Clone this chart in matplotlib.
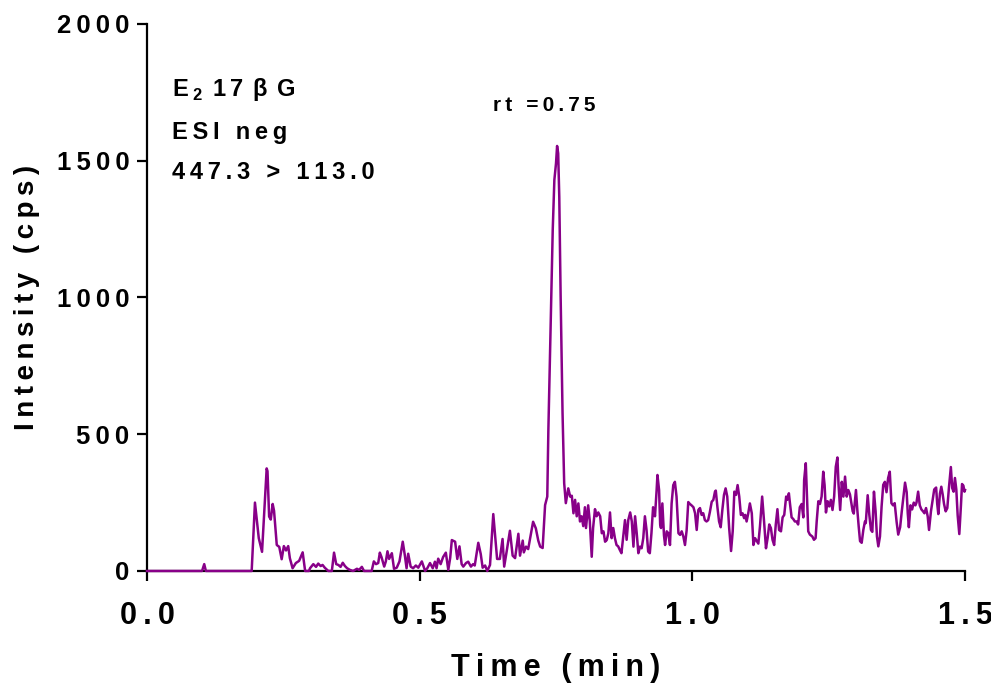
import matplotlib
matplotlib.use("Agg")
import matplotlib.pyplot as plt

# chromatogram trace (time in min, intensity in cps)
time_min = [
    0.000, 0.101, 0.105, 0.108, 0.192, 0.198, 0.204, 0.205, 0.211, 0.2195,
    0.221, 0.224, 0.227, 0.2305, 0.233, 0.238, 0.2426, 0.247, 0.251, 0.255,
    0.259, 0.262, 0.267, 0.273, 0.279, 0.2855, 0.290, 0.297, 0.299, 0.305,
    0.310, 0.314, 0.3185, 0.322, 0.326, 0.3325, 0.339, 0.343, 0.347, 0.351,
    0.355, 0.359, 0.363, 0.367, 0.372, 0.378, 0.385, 0.389, 0.394, 0.398,
    0.412, 0.416, 0.420, 0.424, 0.427, 0.430, 0.435, 0.438, 0.441, 0.444,
    0.449, 0.453, 0.458, 0.463, 0.469, 0.473, 0.476, 0.479, 0.4835, 0.488,
    0.493, 0.4975, 0.504, 0.510, 0.514, 0.519, 0.524, 0.528, 0.531, 0.534,
    0.5385, 0.543, 0.548, 0.5525, 0.556, 0.559, 0.565, 0.569, 0.573, 0.577,
    0.580, 0.585, 0.589, 0.594, 0.598, 0.601, 0.6075, 0.612, 0.6155, 0.620,
    0.624, 0.629, 0.635, 0.638, 0.642, 0.647, 0.652, 0.655, 0.6595, 0.6655,
    0.6705, 0.675, 0.681, 0.684, 0.689, 0.691, 0.695, 0.699, 0.7035, 0.708,
    0.713, 0.7175, 0.721, 0.7255, 0.730, 0.734, 0.736, 0.740, 0.744, 0.747,
    0.750, 0.752, 0.754, 0.756, 0.7585, 0.762, 0.765, 0.768, 0.7725, 0.776,
    0.779, 0.782, 0.785, 0.788, 0.791, 0.794, 0.797, 0.800, 0.803, 0.805,
    0.809, 0.812, 0.8155, 0.818, 0.8215, 0.8245, 0.8275, 0.831, 0.834, 0.837,
    0.840, 0.843, 0.846, 0.849, 0.852, 0.855, 0.858, 0.861, 0.864, 0.867,
    0.870, 0.873, 0.8765, 0.8795, 0.8825, 0.886, 0.889, 0.892, 0.895, 0.898,
    0.901, 0.904, 0.907, 0.910, 0.913, 0.916, 0.919, 0.922, 0.925, 0.928,
    0.9315, 0.9345, 0.936, 0.939, 0.941, 0.9425, 0.945, 0.948, 0.950, 0.953,
    0.956, 0.959, 0.962, 0.965, 0.968, 0.971, 0.9745, 0.9775, 0.9805, 0.9835,
    0.9865, 0.9895, 0.9925, 0.9955, 0.9985, 1.002, 1.005, 1.008, 1.011, 1.014,
    1.017, 1.020, 1.023, 1.026, 1.029, 1.032, 1.0355, 1.0385, 1.0415, 1.043,
    1.046, 1.049, 1.052, 1.055, 1.058, 1.061, 1.064, 1.0675, 1.071, 1.074,
    1.077, 1.080, 1.083, 1.086, 1.089, 1.092, 1.095, 1.097, 1.0995, 1.1025,
    1.1055, 1.109, 1.112, 1.115, 1.118, 1.121, 1.124, 1.128, 1.1315, 1.135,
    1.138, 1.141, 1.144, 1.147, 1.150, 1.153, 1.156, 1.159, 1.1625, 1.1655,
    1.1685, 1.172, 1.174, 1.177, 1.179, 1.182, 1.185, 1.188, 1.191, 1.194,
    1.197, 1.2005, 1.2035, 1.205, 1.208, 1.210, 1.2125, 1.2155, 1.220, 1.223,
    1.226, 1.228, 1.231, 1.234, 1.237, 1.240, 1.2425, 1.245, 1.248, 1.251,
    1.254, 1.257, 1.260, 1.263, 1.266, 1.268, 1.271, 1.274, 1.277, 1.280,
    1.283, 1.286, 1.289, 1.2915, 1.294, 1.296, 1.300, 1.3025, 1.305, 1.3075,
    1.3105, 1.3135, 1.3165, 1.318, 1.3215, 1.3245, 1.3275, 1.330, 1.333, 1.336,
    1.3385, 1.341, 1.344, 1.347, 1.350, 1.353, 1.356, 1.359, 1.362, 1.365,
    1.368, 1.371, 1.3745, 1.3775, 1.381, 1.384, 1.387, 1.390, 1.393, 1.395,
    1.397, 1.400, 1.403, 1.406, 1.409, 1.411, 1.414, 1.417, 1.420, 1.423,
    1.4255, 1.4285, 1.4315, 1.434, 1.4375, 1.441, 1.4435, 1.447, 1.449, 1.451,
    1.454, 1.4565, 1.459, 1.4615, 1.4645, 1.4675, 1.4705, 1.474, 1.4765, 1.479,
    1.4815, 1.484, 1.4865, 1.4895, 1.4925, 1.4945, 1.497, 1.499, 1.500,
]
intensity = [
    0, 0, 25, 0, 0, 250, 138, 120, 70, 375,
    365, 199, 188, 245, 220, 95, 88, 43, 91, 75,
    91, 47, 10, 29, 37, 68, 0, 0, 10, 25,
    15, 27, 18, 22, 12, 0, 0, 67, 25, 22,
    15, 30, 18, 10, 4, 0, 8, 4, 15, 0,
    0, 35, 25, 29, 67, 51, 16, 35, 72, 44,
    65, 8, 12, 35, 107, 55, 10, 63, 16, 10,
    20, 12, 35, 0, 10, 29, 10, 34, 10, 45,
    25, 51, 67, 4, 48, 113, 107, 44, 90, 25,
    16, 29, 34, 16, 25, 20, 103, 62, 12, 20,
    0, 22, 208, 136, 44, 44, 117, 16, 71, 147,
    56, 47, 136, 56, 111, 68, 89, 80, 130, 180,
    156, 111, 89, 84, 241, 272, 515, 881, 1247, 1430,
    1490, 1554, 1527, 1368, 1003, 577, 321, 248, 302, 272,
    275, 211, 260, 200, 247, 181, 200, 164, 233, 157,
    240, 181, 52, 157, 226, 200, 214, 200, 138, 145,
    107, 113, 138, 214, 120, 157, 120, 95, 90, 77,
    65, 120, 186, 114, 186, 214, 181, 89, 200, 138,
    65, 89, 83, 120, 200, 150, 71, 65, 138, 233,
    200, 296, 351, 296, 170, 157, 247, 130, 95, 145,
    138, 95, 247, 314, 326, 272, 138, 132, 145, 126,
    95, 148, 252, 245, 240, 233, 211, 150, 223, 230,
    205, 211, 186, 181, 186, 214, 253, 260, 290, 294,
    233, 181, 160, 223, 278, 302, 272, 157, 73, 145,
    290, 278, 314, 272, 205, 211, 193, 205, 181, 211,
    247, 211, 95, 120, 110, 100, 163, 272, 181, 83,
    120, 170, 157, 114, 95, 170, 226, 150, 145, 196,
    205, 272, 260, 284, 247, 196, 190, 181, 181, 170,
    233, 245, 196, 333, 394, 284, 145, 133, 126, 114,
    120, 181, 255, 245, 272, 363, 314, 214, 255, 236,
    260, 223, 272, 381, 415, 318, 223, 326, 272, 345,
    272, 296, 280, 250, 218, 210, 296, 223, 163, 109,
    103, 150, 181, 175, 277, 205, 150, 143, 290, 218,
    126, 90, 126, 236, 315, 326, 288, 340, 363, 248,
    240, 248, 180, 133, 160, 218, 270, 323, 288, 210,
    160, 240, 225, 250, 240, 250, 290, 240, 225, 218,
    211, 230, 200, 150, 218, 265, 298, 305, 245, 208,
    283, 308, 280, 245, 218, 230, 305, 380, 303, 290,
    340, 298, 203, 135, 240, 318, 312, 290, 296,
]

x_ticks = [0.0, 0.5, 1.0, 1.5]
x_ticklabels = ["0.0", "0.5", "1.0", "1.5"]
y_ticks = [0, 500, 1000, 1500, 2000]
y_ticklabels = ["0", "500", "1000", "1500", "2000"]

TRACE_COLOR = "#880088"
THIN = "\u2009"
BOLD_FONT = ["Liberation Sans", "DejaVu Sans"]
NARROW_FONT = ["Liberation Sans Narrow", "Liberation Sans", "DejaVu Sans"]

plt.rcParams["mathtext.fontset"] = "custom"
plt.rcParams["mathtext.rm"] = "Liberation Sans:bold"
plt.rcParams["mathtext.bf"] = "Liberation Sans:bold"


def spaced(s, sep=THIN):
    return sep.join(s)


fig = plt.figure(figsize=(9.91, 6.91), dpi=100)
ax = fig.add_axes([0.1483, 0.1737, 0.8255, 0.7916])

ax.plot(time_min, intensity, color=TRACE_COLOR, lw=1.8, clip_on=False, zorder=3)

ax.set_xlim(0, 1.5)
ax.set_ylim(0, 2000)
for side in ("top", "right"):
    ax.spines[side].set_visible(False)
for side in ("left", "bottom"):
    ax.spines[side].set_linewidth(1.6)
    ax.spines[side].set_zorder(2)

ax.set_xticks(x_ticks)
ax.set_xticklabels([spaced(s) for s in x_ticklabels], family=NARROW_FONT,
                   fontweight="bold", fontsize=22)
ax.set_yticks(y_ticks)
ax.set_yticklabels([spaced(s) for s in y_ticklabels], family=BOLD_FONT,
                   fontweight="bold", fontsize=18.5)
ax.tick_params(axis="both", direction="out", length=7.5, width=1.6, color="black")
ax.tick_params(axis="x", pad=14)
ax.tick_params(axis="y", pad=5)

ax.set_xlabel(spaced("Time (min)"), family=NARROW_FONT, fontweight="bold",
              fontsize=22, labelpad=16)
ax.set_ylabel(spaced("Intensity (cps)"), family=BOLD_FONT,
              fontweight="bold", fontsize=20, labelpad=12)

ann = dict(family=BOLD_FONT, fontweight="bold", fontsize=17, va="baseline",
           ha="left", color="black")
ax.text(0.046, 1735,
        "E" + THIN + r"$_{2}$" + THIN * 2 + "1" + THIN + "7" + THIN * 2
        + "β" + THIN * 2 + "G", **ann)
ax.text(0.046, 1578, spaced("ESI neg"), **ann)
ax.text(0.046, 1432, spaced("447.3 > 113.0"), **ann)
ax.text(0.634, 1682, spaced("rt =0.75"), family=BOLD_FONT, fontweight="bold",
        fontsize=15, va="baseline", ha="left")

fig.savefig("out.png", dpi=100)
